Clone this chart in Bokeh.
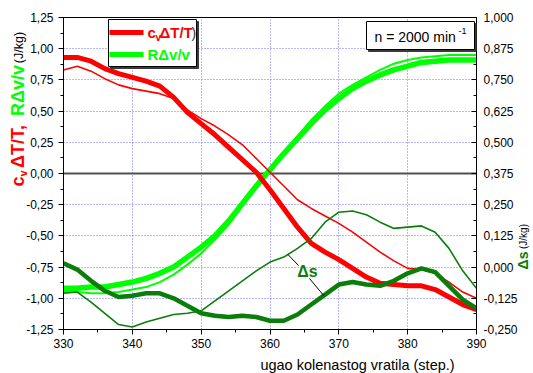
import numpy as np
from bokeh.plotting import figure
from bokeh.models import (Range1d, LinearAxis, FixedTicker, CustomJSTickFormatter,
                          Span, Label, BoxAnnotation)
from bokeh.core.properties import value
from bokeh.embed import file_html
from bokeh.resources import INLINE

# crank angle, deg
crank_angle = list(range(330, 391, 2))

# c_v*dT/T, J/kg (thick and thin curve)
cv_dT_T_1 = [0.93, 0.93, 0.90, 0.84, 0.80, 0.77, 0.74, 0.70, 0.61, 0.49, 0.40,
             0.31, 0.21, 0.11, 0.01, -0.13, -0.28, -0.43, -0.56, -0.63, -0.69,
             -0.76, -0.83, -0.88, -0.89, -0.90, -0.90, -0.93, -0.99, -1.05, -1.09]
cv_dT_T_2 = [0.83, 0.86, 0.82, 0.76, 0.71, 0.68, 0.66, 0.64, 0.60, 0.51, 0.44,
             0.38, 0.31, 0.23, 0.12, 0.01, -0.10, -0.21, -0.28, -0.34, -0.40,
             -0.47, -0.55, -0.63, -0.70, -0.76, -0.77, -0.80, -0.87, -0.95, -1.00]

# R*dv/v, J/kg (thick and thin curve)
R_dv_v_1 = [-0.92, -0.92, -0.91, -0.91, -0.89, -0.87, -0.84, -0.80, -0.75, -0.67, -0.59,
            -0.50, -0.38, -0.24, -0.10, 0.03, 0.16, 0.28, 0.40, 0.51, 0.60,
            0.68, 0.74, 0.79, 0.83, 0.86, 0.89, 0.90, 0.91, 0.91, 0.91]
R_dv_v_2 = [-0.95, -0.95, -0.96, -0.96, -0.95, -0.93, -0.91, -0.87, -0.81, -0.73, -0.64,
            -0.53, -0.41, -0.26, -0.11, 0.03, 0.17, 0.30, 0.43, 0.54, 0.64,
            0.71, 0.77, 0.83, 0.88, 0.91, 0.93, 0.94, 0.95, 0.95, 0.95]

# entropy change ds, J/kg (right axis)
ds_1 = [0.015, -0.010, -0.055, -0.095, -0.120, -0.115, -0.105, -0.105, -0.125, -0.155, -0.185,
        -0.195, -0.200, -0.195, -0.200, -0.215, -0.215, -0.190, -0.150, -0.110, -0.070,
        -0.060, -0.070, -0.075, -0.055, -0.025, -0.005, -0.020, -0.075, -0.130, -0.165]
ds_2 = [-0.105, -0.100, -0.140, -0.185, -0.230, -0.240, -0.220, -0.205, -0.190, -0.185, -0.175,
        -0.135, -0.095, -0.055, -0.015, 0.020, 0.040, 0.075, 0.115, 0.180, 0.220,
        0.225, 0.210, 0.180, 0.155, 0.160, 0.165, 0.140, 0.075, -0.015, -0.085]

left_ticks = [-1.25, -1.0, -0.75, -0.5, -0.25, 0.0, 0.25, 0.5, 0.75, 1.0, 1.25]
right_ticks = [-0.25, -0.125, 0.0, 0.125, 0.25, 0.375, 0.5, 0.625, 0.75, 0.875, 1.0]
x_ticks = [330, 340, 350, 360, 370, 380, 390]

X_MIN, X_MAX = 330, 390
Y_MIN, Y_MAX = -1.25, 1.25
DS_MIN, DS_MAX = -0.25, 1.0

# frame geometry (pixels on the canvas)
FL, FR, FT, FB = 63, 476, 17, 329
W, H = 533, 373

FONT = "Liberation Sans"
RED = "#ff0000"
GREEN = "#00ff00"
DARK_GREEN = "#0a7d0a"


def px2x(px):
    return X_MIN + (px - FL) * (X_MAX - X_MIN) / (FR - FL)


def py2y(py):
    return Y_MAX - (py - FT) * (Y_MAX - Y_MIN) / (FB - FT)


def py2ds(py):
    return DS_MAX - (py - FT) * (DS_MAX - DS_MIN) / (FB - FT)


p = figure(width=W, height=H, title=None,
           x_range=Range1d(X_MIN, X_MAX), y_range=Range1d(Y_MIN, Y_MAX),
           output_backend="svg", toolbar_location=None,
           min_border_left=FL, min_border_right=W - FR,
           min_border_top=FT, min_border_bottom=H - FB)
p.extra_y_ranges = {"ds": Range1d(DS_MIN, DS_MAX)}
p.background_fill_color = "white"
p.border_fill_color = "white"
p.outline_line_color = "black"
p.outline_line_width = 1


def style_axis(ax):
    ax.axis_line_color = "black"
    ax.major_tick_line_color = "black"
    ax.minor_tick_line_color = "black"
    ax.major_label_text_font = FONT
    ax.major_label_text_font_size = "12px"
    ax.major_label_text_color = "black"


xa = p.xaxis[0]
style_axis(xa)
xa.ticker = FixedTicker(ticks=x_ticks, minor_ticks=list(range(330, 391, 5)))
xa.major_tick_out, xa.major_tick_in = 5, 0
xa.minor_tick_out, xa.minor_tick_in = 3, 0
xa.major_label_standoff = 4

ya = p.yaxis[0]
style_axis(ya)
ya.ticker = FixedTicker(ticks=left_ticks, minor_ticks=list(np.arange(-1.25, 1.26, 0.125)))
ya.formatter = CustomJSTickFormatter(
    code="var v = Math.abs(tick) < 1e-9 ? 0 : tick; return v.toFixed(2).replace('.', ',');")
ya.major_tick_out, ya.major_tick_in = 5, 0
ya.minor_tick_out, ya.minor_tick_in = 3, 0
ya.major_label_standoff = 5

ra = LinearAxis(y_range_name="ds")
style_axis(ra)
ra.ticker = FixedTicker(ticks=right_ticks, minor_ticks=list(np.arange(-0.25, 1.01, 0.0625)))
ra.formatter = CustomJSTickFormatter(
    code="var v = Math.abs(tick) < 1e-9 ? 0 : tick; return v.toFixed(3).replace('.', ',');")
ra.major_tick_out, ra.major_tick_in = 0, 5
ra.minor_tick_out, ra.minor_tick_in = 0, 3
ra.major_label_standoff = 7
p.add_layout(ra, "right")

# dotted blue grid
p.xgrid.ticker = FixedTicker(ticks=x_ticks[1:-1])
p.ygrid.ticker = FixedTicker(ticks=[t for t in left_ticks if t not in (0.0, -1.25, 1.25)])
for g in (p.xgrid[0], p.ygrid[0]):
    g.grid_line_color = "#6f6fff"
    g.grid_line_dash = "1 2"
    g.grid_line_width = 1

p.add_layout(Span(location=0, dimension="width", line_color="#505050",
                  line_width=2, level="underlay"))

# curves
p.line(crank_angle, R_dv_v_2, line_color=GREEN, line_width=2)
p.line(crank_angle, R_dv_v_1, line_color=GREEN, line_width=5.5)
p.line(crank_angle, cv_dT_T_2, line_color=RED, line_width=1.6)
p.line(crank_angle, cv_dT_T_1, line_color=RED, line_width=5)
p.line(crank_angle, ds_2, line_color=DARK_GREEN, line_width=1.6, y_range_name="ds")
p.line(crank_angle, ds_1, line_color=DARK_GREEN, line_width=4.5, y_range_name="ds")

# "Δs" callout with leader lines to both entropy curves
x_a, x_b = 362.6, 367.8
p.segment(x0=[x_a], y0=[float(np.interp(x_a, crank_angle, ds_2))],
          x1=[px2x(298)], y1=[py2ds(265)], line_color="black", line_width=1,
          y_range_name="ds")
p.segment(x0=[px2x(309)], y0=[py2ds(278)],
          x1=[x_b], y1=[float(np.interp(x_b, crank_angle, ds_1))],
          line_color="black", line_width=1, y_range_name="ds")
p.add_layout(Label(x=px2x(307), y=py2y(271), text="Δs", text_font=FONT,
                   text_font_size="16px", text_font_style="bold", text_color=DARK_GREEN,
                   text_align="center", text_baseline="middle"))


def box(l, t, r, b):
    # framed box with a drop shadow, given in canvas pixels
    p.add_layout(BoxAnnotation(left=px2x(l + 2), right=px2x(r + 2), top=py2y(t + 2),
                               bottom=py2y(b + 2), fill_color="#3a3a3a", fill_alpha=1,
                               line_color="#3a3a3a", line_alpha=1))
    p.add_layout(BoxAnnotation(left=px2x(l), right=px2x(r), top=py2y(t), bottom=py2y(b),
                               fill_color="white", fill_alpha=1,
                               line_color="black", line_alpha=1, line_width=1))


def text(px, py, s, color="black", size="15px", style="normal", align="left", angle=0.0):
    p.add_layout(Label(x=px2x(px), y=py2y(py), text=s, text_font=FONT,
                       text_font_size=size, text_font_style=style, text_color=color,
                       text_align=align, text_baseline="middle", angle=angle))


def side_text(px, py, s, color="black", size="15px", style="normal", align="center", angle=0.0):
    # text in the border area, drawn as a text glyph on the top level
    p.text(x=[px2x(px)], y=[py2y(py)], text=[s], text_font=value(FONT),
           text_font_size=value(size), text_font_style=style, text_color=color,
           text_align=align, text_baseline="middle", angle=angle, level="overlay")


# legend
box(108, 19, 196, 66)
p.segment(x0=[px2x(109), px2x(109)], y0=[py2y(32), py2y(54)],
          x1=[px2x(143), px2x(143)], y1=[py2y(32), py2y(54)],
          line_color=[RED, GREEN], line_width=5, level="overlay")
text(147, 32, "c", RED, "15px", "bold")
text(155, 37, "v", RED, "10px", "bold")
text(159, 32, "ΔT/T", RED, "15px", "bold")
text(191, 32, ")", "#333333", "14px")
text(147, 54, "RΔv/v", GREEN, "15px", "bold")

# engine speed note
box(366, 21, 474, 49)
text(374, 36, "n = 2000 min", "black", "14px")
text(458, 30, "-1", "black", "9px")

# axis titles
side_text(357, 364, "ugao kolenastog vratila (step.)", "black", "14.5px")

rot = np.pi / 2
side_text(17, 181, "c", RED, "18px", "bold", "center", rot)
side_text(22, 173, "v", RED, "11px", "bold", "center", rot)
side_text(17, 146, "ΔT/T,", RED, "18px", "bold", "center", rot)
side_text(17, 90, "RΔv/v", GREEN, "18px", "bold", "center", rot)
side_text(18, 47, "(J/kg)", "black", "12.5px", "normal", "center", rot)

side_text(522, 260, "Δs", DARK_GREEN, "14px", "bold", "center", rot)
side_text(523, 236, "(J/kg)", "black", "10px", "normal", "center", rot)

open("out.html", "w").write(file_html(p, INLINE))
